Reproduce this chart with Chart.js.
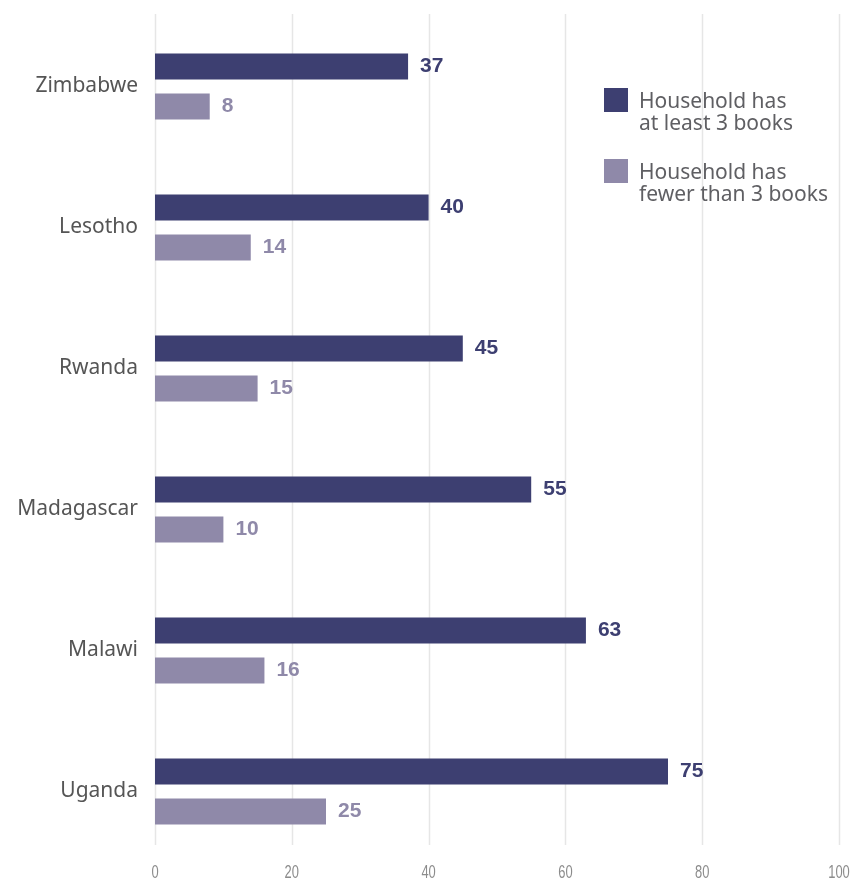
<!DOCTYPE html>
<html>
<head>
<meta charset="utf-8">
<title>Reading by household books</title>
<script src="https://cdn.jsdelivr.net/npm/chart.js@4/dist/chart.umd.min.js"></script>
<style>
  html, body { margin: 0; padding: 0; background: #fff; }
  #wrap { width: 852px; height: 881px; }
</style>
</head>
<body>
<div id="wrap"><canvas id="graphic" width="852" height="881"></canvas></div>
<script>
const countries = ["Zimbabwe", "Lesotho", "Rwanda", "Madagascar", "Malawi", "Uganda"];
const atLeast3Books = [37, 40, 45, 55, 63, 75];
const fewerThan3Books = [8, 14, 15, 10, 16, 25];
const xTicks = [0, 20, 40, 60, 80, 100];
const seriesNames = [
  ["Household has", "at least 3 books"],
  ["Household has", "fewer than 3 books"]
];

const DARK = "#3d3f71";
const LIGHT = "#8f89a9";
const SANS = "'Noto Sans', 'Liberation Sans', sans-serif";

// vertical grid lines stop a bit short of the bottom of the category band
const gridLines = {
  id: "gridLines",
  beforeDatasetsDraw(chart) {
    const { ctx, scales: { x } } = chart;
    ctx.save();
    ctx.strokeStyle = "#e6e6e6";
    ctx.lineWidth = 1.5;
    xTicks.forEach(v => {
      const px = Math.round(x.getPixelForValue(v)) + 0.5;
      ctx.beginPath();
      ctx.moveTo(px, 14);
      ctx.lineTo(px, 845);
      ctx.stroke();
    });
    ctx.restore();
  }
};

// condensed axis numbers under the plot
const xTickLabels = {
  id: "xTickLabels",
  afterDraw(chart) {
    const { ctx, scales: { x } } = chart;
    ctx.save();
    ctx.font = "19px 'Liberation Sans', Arial, sans-serif";
    ctx.fillStyle = "#8c8c8c";
    ctx.textAlign = "center";
    ctx.textBaseline = "middle";
    xTicks.forEach(v => {
      ctx.save();
      ctx.translate(x.getPixelForValue(v), 873);
      ctx.scale(0.68, 1);
      ctx.fillText(String(v), 0, 0);
      ctx.restore();
    });
    ctx.restore();
  }
};

// bold value next to the end of each bar
const valueLabels = {
  id: "valueLabels",
  afterDatasetsDraw(chart) {
    const { ctx } = chart;
    ctx.save();
    ctx.font = "bold 21px 'Liberation Sans', Arial, sans-serif";
    ctx.textBaseline = "middle";
    ctx.textAlign = "left";
    chart.data.datasets.forEach((ds, i) => {
      ctx.fillStyle = ds.backgroundColor;
      chart.getDatasetMeta(i).data.forEach((bar, j) => {
        ctx.fillText(String(ds.data[j]), bar.x + 12, bar.y);
      });
    });
    ctx.restore();
  }
};

// two-line legend in the top right corner
const sideLegend = {
  id: "sideLegend",
  afterDraw(chart) {
    const { ctx } = chart;
    ctx.save();
    ctx.font = "21px " + SANS;
    ctx.textBaseline = "middle";
    chart.data.datasets.forEach((ds, i) => {
      const top = 88 + i * 71;
      ctx.fillStyle = ds.backgroundColor;
      ctx.fillRect(604, top, 24, 24);
      ctx.fillStyle = "#5f5f63";
      seriesNames[i].forEach((line, k) => {
        ctx.fillText(line, 639, top + 14 + k * 22);
      });
    });
    ctx.restore();
  }
};

new Chart(document.getElementById("graphic").getContext("2d"), {
  type: "bar",
  data: {
    labels: countries,
    datasets: [
      { label: seriesNames[0].join(" "), data: atLeast3Books, backgroundColor: DARK },
      { label: seriesNames[1].join(" "), data: fewerThan3Books, backgroundColor: LIGHT }
    ]
  },
  options: {
    indexAxis: "y",
    responsive: false,
    animation: false,
    categoryPercentage: 0.567,
    barPercentage: 0.65,
    layout: { padding: { top: 16, right: 13, left: 0, bottom: 0 } },
    plugins: {
      legend: { display: false },
      tooltip: { enabled: false }
    },
    scales: {
      x: {
        min: 0,
        max: 100,
        afterBuildTicks(axis) { axis.ticks = xTicks.map(v => ({ value: v })); },
        afterFit(axis) {
          axis.height = 19;
          axis.paddingLeft = 0;
          axis.paddingRight = 0;
        },
        grid: { display: false, drawTicks: false },
        border: { display: false },
        ticks: { display: false }
      },
      y: {
        afterFit(axis) {
          axis.width = 155;
          axis.paddingTop = 0;
          axis.paddingBottom = 0;
        },
        grid: { display: false, drawTicks: false },
        border: { display: false },
        ticks: {
          padding: 17,
          color: "#555",
          font: { family: SANS, size: 21 }
        }
      }
    }
  },
  plugins: [gridLines, xTickLabels, valueLabels, sideLegend]
});
</script>
</body>
</html>
